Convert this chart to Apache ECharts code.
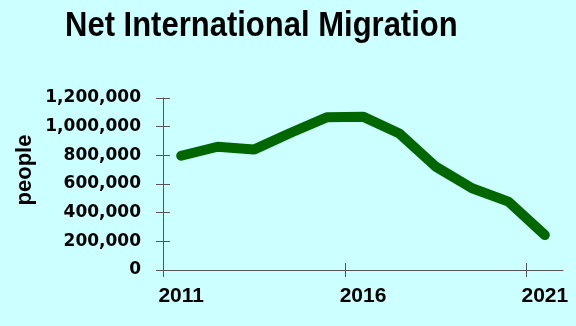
<!DOCTYPE html>
<html>
<head>
<meta charset="utf-8">
<script src="https://cdn.jsdelivr.net/npm/echarts@6/dist/echarts.min.js"></script>
<style>
  html, body { margin: 0; padding: 0; background: #ccffff; }
  #chart { width: 576px; height: 326px; }
</style>
</head>
<body>
<div id="chart"></div>
<script>
// years (values are plotted at mid-year)
var years = [2011, 2012, 2013, 2014, 2015, 2016, 2017, 2018, 2019, 2020, 2021]
var migration = [797000, 860000, 840000, 956000, 1065000, 1070000, 952000, 721000, 570000, 477000, 244000]
var xTicks = [2011, 2016, 2021]
var xLabels = [2011.5, 2016.5, 2021.5]

var points = []
for (var i = 0; i < years.length; i++) {
  points.push([years[i] + 0.5, migration[i]])
}

var axisColor = '#555'
var font = 'Liberation Sans, Arial, sans-serif'

var myChart = echarts.init(document.getElementById('chart'))
var option = {
  backgroundColor: '#ccffff',
  graphic: [{
    type: 'text',
    x: 65,
    y: 9,
    scaleY: 1.11,
    style: {
      text: 'Net International Migration',
      font: 'bold 31px Liberation Sans, Arial, sans-serif',
      fill: '#000',
      align: 'left',
      verticalAlign: 'top'
    }
  }, {
    type: 'text',
    x: 25,
    y: 170,
    rotation: Math.PI / 2,
    style: {
      text: 'people',
      font: 'bold 22px Liberation Sans, Arial, sans-serif',
      fill: '#000',
      align: 'center',
      verticalAlign: 'middle'
    }
  }],
  grid: { left: 163, right: 13, top: 98, bottom: 56 },
  xAxis: [{
    type: 'value',
    min: 2011,
    max: 2022,
    splitLine: { show: false },
    axisLine: { lineStyle: { color: axisColor, width: 1 } },
    axisTick: { show: true, length: 7, customValues: xTicks, lineStyle: { color: axisColor } },
    axisLabel: {
      customValues: xLabels,
      margin: 16,
      formatter: function (v) { return String(Math.floor(v)) },
      fontFamily: font, fontSize: 21, fontWeight: 'bold', color: '#000'
    }
  }, {
    type: 'value',
    position: 'bottom',
    min: 2011,
    max: 2022,
    splitLine: { show: false },
    axisLine: { show: false },
    axisTick: { show: true, inside: true, length: 7, customValues: xTicks, lineStyle: { color: axisColor } },
    axisLabel: { show: false }
  }],
  yAxis: [{
    type: 'value',
    min: 0,
    max: 1200000,
    interval: 200000,
    splitLine: { show: false },
    axisLine: { show: true, lineStyle: { color: axisColor, width: 1 } },
    axisTick: { show: true, length: 7, lineStyle: { color: axisColor } },
    axisLabel: {
      margin: 22,
      formatter: function (v) { return v.toLocaleString('en-US') },
      fontFamily: 'DejaVu Sans', fontSize: 17, fontWeight: 'bold', color: '#000'
    }
  }, {
    type: 'value',
    position: 'left',
    min: 0,
    max: 1200000,
    interval: 200000,
    splitLine: { show: false },
    axisLine: { show: false },
    axisTick: { show: true, inside: true, length: 7, lineStyle: { color: axisColor } },
    axisLabel: { show: false }
  }],
  series: [{
    type: 'line',
    data: points,
    showSymbol: false,
    silent: true,
    lineStyle: { color: '#006600', width: 10, cap: 'round' }
  }]
}
myChart.setOption(option)
</script>
</body>
</html>
